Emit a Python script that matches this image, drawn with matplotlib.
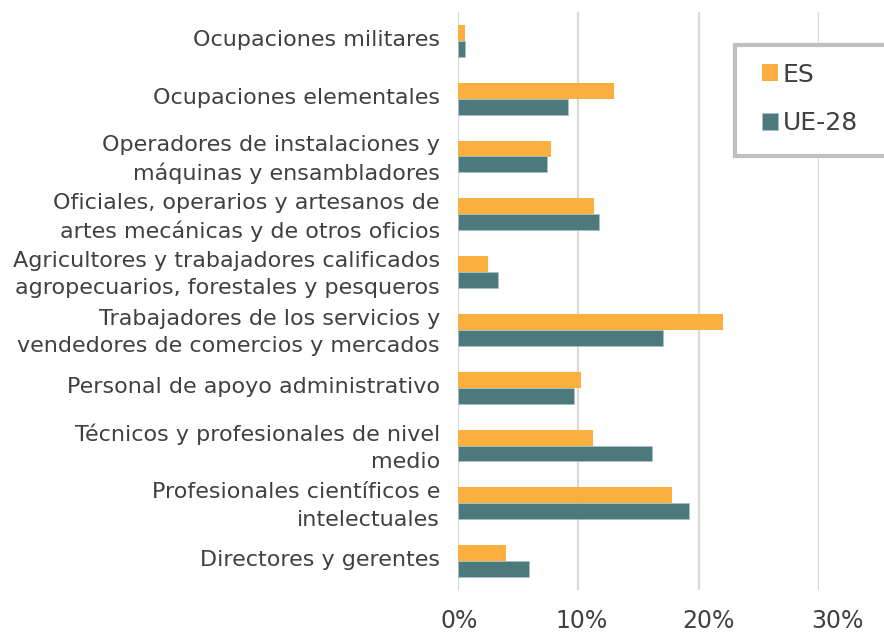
import matplotlib
matplotlib.use("Agg")
import matplotlib.pyplot as plt
from matplotlib.patches import Rectangle
from matplotlib.transforms import ScaledTranslation
import numpy as np

categories = [
    "Directores y gerentes",
    "Profesionales científicos e\nintelectuales",
    "Técnicos y profesionales de nivel\nmedio",
    "Personal de apoyo administrativo",
    "Trabajadores de los servicios y\nvendedores de comercios y mercados",
    "Agricultores y trabajadores calificados\nagropecuarios, forestales y pesqueros",
    "Oficiales, operarios y artesanos de\nartes mecánicas y de otros oficios",
    "Operadores de instalaciones y\nmáquinas y ensambladores",
    "Ocupaciones elementales",
    "Ocupaciones militares",
]
es_values = [4.0, 17.8, 11.2, 10.2, 22.0, 2.5, 11.3, 7.75, 13.0, 0.55]
ue_values = [5.9, 19.2, 16.1, 9.6, 17.0, 3.3, 11.7, 7.4, 9.15, 0.6]
series_names = ["ES", "UE-28"]
xticks = [0, 10, 20, 30]
xtick_labels = ["0%", "10%", "20%", "30%"]

c_es = "#FBAF3F"
c_ue = "#4B797C"
text_c = "#404040"

fig = plt.figure(figsize=(8.84, 6.33), dpi=100)
ax = fig.add_axes([458/884, 1-590/633, (819-458)/884, 578/633])

y = np.arange(len(categories))
h = 0.276
ax.barh(y + h/2, es_values, height=h, color=c_es, label=series_names[0], zorder=3)
ax.barh(y - h/2, ue_values, height=h, color=c_ue, edgecolor="#A9C0C1", linewidth=0.6,
        label=series_names[1], zorder=3)

ax.set_xlim(0, 30)
ax.set_ylim(-0.5, len(categories) - 0.5)
ax.set_xticks(xticks)
ax.set_xticklabels(xtick_labels)
ax.set_yticks(y)
ax.set_yticklabels(categories, linespacing=1.45)
for s in ax.spines.values():
    s.set_visible(False)
for xv in xticks:
    ax.axvline(xv, color="#D9D9D9", lw=1.6, zorder=1)
ax.tick_params(axis="both", length=0, colors=text_c, labelsize=16)
ax.tick_params(axis="y", pad=13)
ax.tick_params(axis="x", pad=14)
for lab, dx in zip(ax.get_xticklabels(), [1, 3, 10, 18]):
    lab.set_fontsize(17)
    lab.set_transform(lab.get_transform() + ScaledTranslation(dx / 100, 0, fig.dpi_scale_trans))
for lab in ax.get_yticklabels():
    lab.set_transform(lab.get_transform() + ScaledTranslation(0, 3 / 100, fig.dpi_scale_trans))

# legend
fig.patches.append(Rectangle((735/884, 1-156/633), 170/884, 111/633,
                             transform=fig.transFigure, fill=True, facecolor="white",
                             edgecolor="#BFBFBF", lw=3, zorder=5))
leg = fig.legend(loc="upper left", bbox_to_anchor=(739/884, 1-40/633), frameon=False,
                 fontsize=18, handlelength=0.65, handleheight=0.65, handletextpad=0.2,
                 labelspacing=1.0, labelcolor=text_c)
leg.set_zorder(6)

fig.savefig("out.png", dpi=100)
